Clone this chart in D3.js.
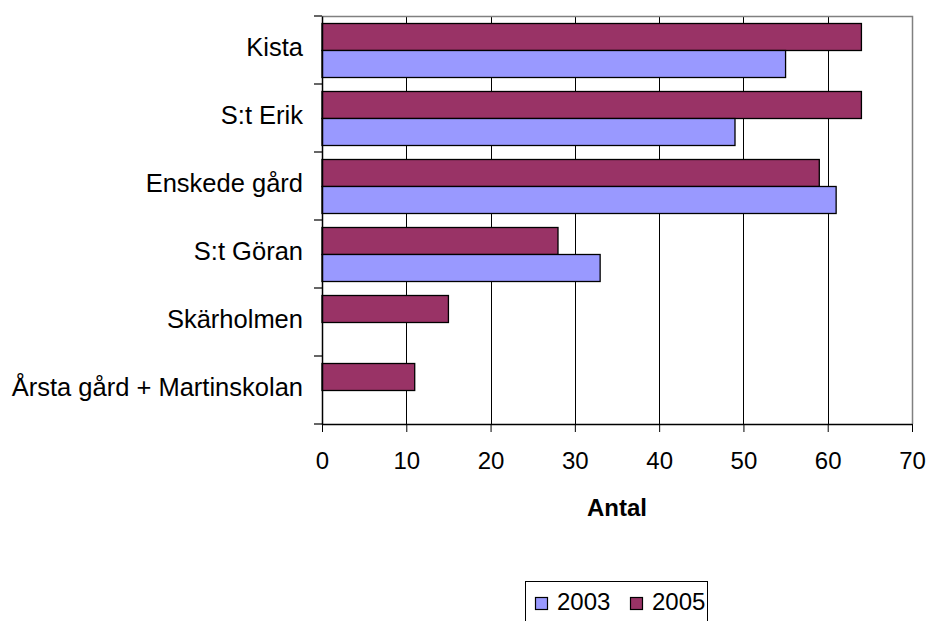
<!DOCTYPE html>
<html>
<head>
<meta charset="utf-8">
<script src="https://cdn.jsdelivr.net/npm/d3@7"></script>
<style>
  body { margin: 0; background: #fff; }
  svg { display: block; font-family: "Liberation Sans", Arial, sans-serif; }
</style>
</head>
<body>
<div id="vis"></div>
<script>
// data
var categories = ["Kista", "S:t Erik", "Enskede gård", "S:t Göran", "Skärholmen", "Årsta gård + Martinskolan"];
var values2003 = [55, 49, 61, 33, null, null];
var values2005 = [64, 64, 59, 28, 15, 11];
var series = ["2005", "2003"];          // drawing order inside each group
var legendItems = ["2003", "2005"];
var xTicks = [0, 10, 20, 30, 40, 50, 60, 70];

var colors = {"2003": "#9999ff", "2005": "#993366"};

var width = 927, height = 621;
var plot = {left: 322, right: 912, top: 16, bottom: 424};

var svg = d3.select("#vis").append("svg")
    .attr("width", width)
    .attr("height", height);

var x = d3.scaleLinear()
    .domain([0, 70])
    .range([plot.left, plot.right]);

var y = d3.scaleBand()
    .domain(categories)
    .range([plot.top, plot.bottom]);

// bars inside a band (Excel puts the group slightly low)
var yInner = d3.scaleBand()
    .domain(series)
    .range([7.5, 61.5]);

var rows = categories.map(function(c, i) {
    return {cat: c, "2003": values2003[i], "2005": values2005[i]};
});

// gridlines
svg.append("g")
    .selectAll("line")
    .data(xTicks.slice(1, -1))
    .enter().append("line")
    .attr("x1", function(d) { return Math.round(x(d)) + 0.5 })
    .attr("x2", function(d) { return Math.round(x(d)) + 0.5 })
    .attr("y1", plot.top)
    .attr("y2", plot.bottom)
    .attr("stroke", "#000")
    .attr("stroke-width", 1)

// plot border top / right (grey)
svg.append("path")
    .attr("d", "M" + (plot.left) + "," + (plot.top + 0.5) + "H" + (plot.right + 0.5) + "V" + plot.bottom)
    .attr("fill", "none")
    .attr("stroke", "#808080")
    .attr("stroke-width", 1.5)

// bars
var groups = svg.append("g")
    .selectAll("g")
    .data(rows)
    .enter().append("g")
    .attr("transform", function(d) { return "translate(0," + y(d.cat) + ")" })

groups.selectAll("rect")
    .data(function(d) {
        return series.filter(function(s) { return d[s] != null })
            .map(function(s) { return {key: s, value: d[s]} })
    })
    .enter().append("rect")
    .attr("x", x(0))
    .attr("y", function(d) { return yInner(d.key) })
    .attr("width", function(d) { return x(d.value) - x(0) })
    .attr("height", yInner.bandwidth())
    .attr("fill", function(d) { return colors[d.key] })
    .attr("stroke", "#000")
    .attr("stroke-width", 1.3)

// x axis
var xAxis = svg.append("g")
    .attr("transform", "translate(0," + plot.bottom + ")")
    .call(d3.axisBottom(x).tickValues(xTicks).tickSize(8).tickPadding(20).tickSizeOuter(0))

xAxis.select(".domain").attr("stroke", "#000").attr("stroke-width", 1.5)
xAxis.selectAll(".tick line").attr("stroke", "#000")
xAxis.selectAll("text")
    .attr("font-size", "24px")
    .attr("fill", "#000")
    .attr("font-family", "Liberation Sans, Arial, sans-serif")

// y axis
var yAxis = svg.append("g")
    .attr("transform", "translate(" + plot.left + ",0)")
    .call(d3.axisLeft(y).tickSize(0).tickPadding(19).tickSizeOuter(0))

yAxis.select(".domain").attr("stroke", "#000").attr("stroke-width", 1.5)
yAxis.selectAll("text")
    .attr("font-size", "25.5px")
    .attr("fill", "#000")
    .attr("dy", "0.3em")
    .attr("y", -2)
    .attr("font-family", "Liberation Sans, Arial, sans-serif")

// tick marks between categories
var bounds = categories.map(function(c) { return y(c) }).concat([plot.bottom]);
svg.append("g")
    .selectAll("line")
    .data(bounds)
    .enter().append("line")
    .attr("x1", plot.left - 8)
    .attr("x2", plot.left)
    .attr("y1", function(d) { return d })
    .attr("y2", function(d) { return d })
    .attr("stroke", "#000")
    .attr("stroke-width", 1.2)

// axis title
svg.append("text")
    .attr("x", (plot.left + plot.right) / 2)
    .attr("y", 516)
    .attr("text-anchor", "middle")
    .attr("font-size", "24px")
    .attr("font-weight", "bold")
    .text("Antal")

// legend
var legend = svg.append("g")
    .attr("transform", "translate(525,581)")

legend.append("rect")
    .attr("x", 0.5)
    .attr("y", 0.5)
    .attr("width", 182)
    .attr("height", 60)
    .attr("fill", "#fff")
    .attr("stroke", "#000")
    .attr("stroke-width", 1)

var item = legend.selectAll("g.item")
    .data(legendItems)
    .enter().append("g")
    .attr("class", "item")
    .attr("transform", function(d, i) { return "translate(" + (10 + i * 95) + ",0)" })

item.append("rect")
    .attr("x", 0.5)
    .attr("y", 16.5)
    .attr("width", 12)
    .attr("height", 12)
    .attr("fill", function(d) { return colors[d] })
    .attr("stroke", "#000")
    .attr("stroke-width", 1.2)

item.append("text")
    .attr("x", 22)
    .attr("y", 29)
    .attr("font-size", "24px")
    .text(function(d) { return d })
</script>
</body>
</html>
